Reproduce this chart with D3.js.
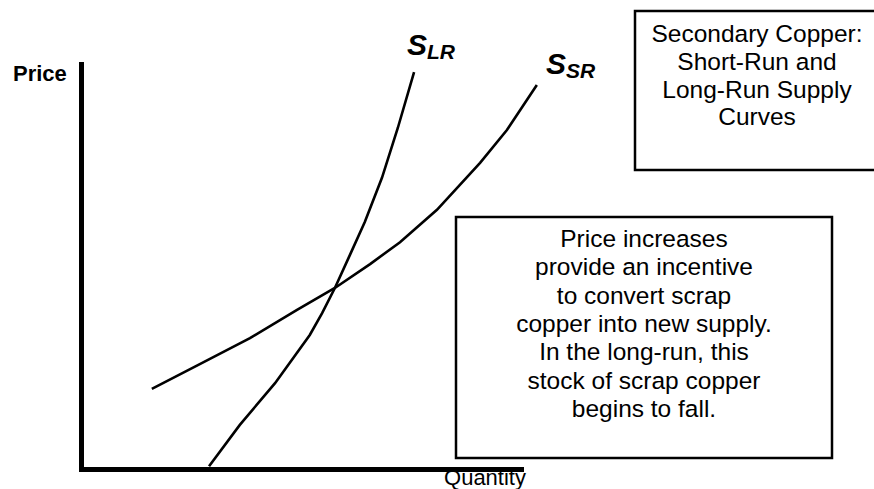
<!DOCTYPE html>
<html>
<head>
<meta charset="utf-8">
<script src="https://cdn.jsdelivr.net/npm/d3@7"></script>
<style>
  body { margin: 0; background: #fff; }
  svg { display: block; font-family: Arial, "Liberation Sans", sans-serif; }
  .axis .domain { stroke: #000; stroke-width: 5; stroke-linecap: square; }
  .curve { fill: none; stroke: #000; stroke-width: 2.6; }
  .box { fill: none; stroke: #000; stroke-width: 2.5; }
</style>
</head>
<body>
<svg width="874" height="489"></svg>
<script>
//Long-run supply curve points (quantity, price)
let lrQuantity = [29.1, 36.1, 44.1, 52.0, 54.8, 57.7, 61.1, 64.5, 68.4, 72.0, 75.7];
let lrPrice    = [0.7, 10.9, 21.2, 33.1, 38.5, 44.7, 52.8, 61.0, 71.9, 84.2, 98.0];
//Short-run supply curve points (quantity, price)
let srQuantity = [16.1, 27.0, 38.4, 49.1, 57.7, 65.7, 72.5, 80.9, 90.7, 96.8, 103.6];
let srPrice    = [19.8, 25.9, 32.3, 39.3, 44.7, 50.6, 56.0, 64.0, 75.6, 83.7, 94.8];
//Texts of the two note boxes
let titleLines = ["Secondary Copper:", "Short-Run and", "Long-Run Supply", "Curves"];
let noteLines = ["Price increases", "provide an incentive", "to convert scrap",
                 "copper into new supply.", "In the long-run, this",
                 "stock of scrap copper", "begins to fall."];

let svg = d3.select("svg");

let x = d3.scaleLinear().domain([0, 100]).range([81, 521]),
    y = d3.scaleLinear().domain([0, 100]).range([469, 64]);

let line = d3.line()
    .x(d => x(d[0]))
    .y(d => y(d[1]));

//Quantity label goes first, the axis is drawn over its top
svg.append("text")
    .attr("x", 485)
    .attr("y", 485)
    .attr("text-anchor", "middle")
    .attr("font-size", 22)
    .text("Quantity");

svg.append("text")
    .attr("x", 13)
    .attr("y", 81)
    .attr("font-size", 22)
    .attr("font-weight", "bold")
    .text("Price");

//Axes without ticks, only the thick domain line
svg.append("g")
    .attr("class", "axis")
    .attr("transform", "translate(0," + y(0) + ")")
    .call(d3.axisBottom(x).tickValues([]).tickSizeOuter(0));

svg.append("g")
    .attr("class", "axis")
    .attr("transform", "translate(" + x(0) + ",0)")
    .call(d3.axisLeft(y).tickValues([]).tickSizeOuter(0));

//Supply curves
svg.append("path")
    .attr("class", "curve")
    .attr("d", line(d3.zip(lrQuantity, lrPrice)));

svg.append("path")
    .attr("class", "curve")
    .attr("d", line(d3.zip(srQuantity, srPrice)));

//Curve labels: big S with a subscript
function curveLabel(px, py, sub){
  let t = svg.append("text")
      .attr("x", px)
      .attr("y", py)
      .attr("font-weight", "bold")
      .attr("font-style", "italic");
  t.append("tspan").attr("font-size", 30).text("S");
  t.append("tspan").attr("font-size", 21).attr("dy", 4).text(sub);
}
curveLabel(407, 55, "LR");
curveLabel(546, 74, "SR");

//Title box, running past the right edge
svg.append("rect")
    .attr("class", "box")
    .attr("x", 635).attr("y", 11)
    .attr("width", 245).attr("height", 159);

svg.append("g")
    .selectAll("text")
    .data(titleLines)
    .enter().append("text")
    .attr("x", 757)
    .attr("y", (d, i) => 42 + i * 27.8)
    .attr("text-anchor", "middle")
    .attr("font-size", 24.5)
    .text(d => d);

//Note box
svg.append("rect")
    .attr("class", "box")
    .attr("x", 456).attr("y", 217)
    .attr("width", 376).attr("height", 241);

svg.append("g")
    .selectAll("text")
    .data(noteLines)
    .enter().append("text")
    .attr("x", 644)
    .attr("y", (d, i) => 247 + i * 28.3)
    .attr("text-anchor", "middle")
    .attr("font-size", 24.5)
    .text(d => d);
</script>
</body>
</html>
